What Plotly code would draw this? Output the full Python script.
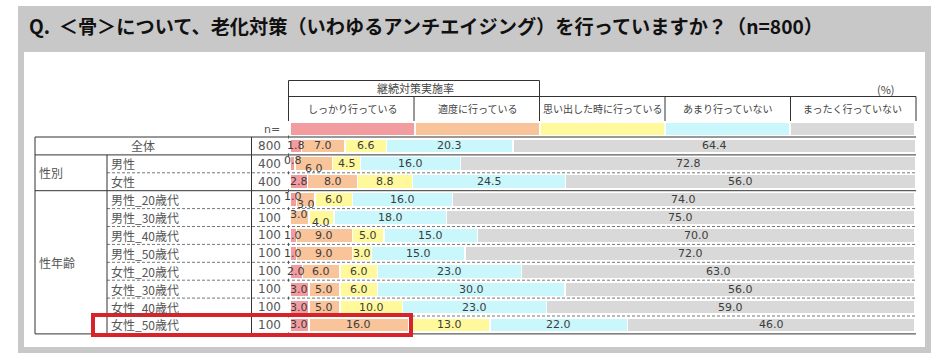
import plotly.graph_objects as go

W, H = 944, 358

# ---------------- data ----------------
rows = ["全体", "男性", "女性", "男性_20歳代", "男性_30歳代", "男性_40歳代",
        "男性_50歳代", "女性_20歳代", "女性_30歳代", "女性_40歳代", "女性_50歳代"]
n_values = [800, 400, 400, 100, 100, 100, 100, 100, 100, 100, 100]
series_names = ["しっかり行っている", "適度に行っている", "思い出した時に行っている",
                "あまり行っていない", "まったく行っていない"]
strong = [1.8, 0.8, 2.8, 1.0, 0.0, 1.0, 1.0, 2.0, 3.0, 3.0, 3.0]
moderate = [7.0, 6.0, 8.0, 3.0, 3.0, 9.0, 9.0, 6.0, 5.0, 5.0, 16.0]
remember = [6.6, 4.5, 8.8, 6.0, 4.0, 5.0, 3.0, 6.0, 6.0, 10.0, 13.0]
rarely = [20.3, 16.0, 24.5, 16.0, 18.0, 15.0, 15.0, 23.0, 30.0, 23.0, 22.0]
never = [64.4, 72.8, 56.0, 74.0, 75.0, 70.0, 72.0, 63.0, 56.0, 59.0, 46.0]
title_text = "Q.  ＜骨＞について、老化対策（いわゆるアンチエイジング）を行っていますか？（n=800）"
group_label = "継続対策実施率"
unit_label = "(%)"

series = [strong, moderate, remember, rarely, never]
colors = ["#F29CA0", "#F9C49A", "#FFF99B", "#C9F7FB", "#D9D9D9"]

JP = "Noto Sans CJK JP"
NUM = "DejaVu Sans"


def px(x):
    return x / W


def py(y):
    return 1 - y / H


fig = go.Figure()
for name, vals, col in zip(series_names, series, colors):
    fig.add_trace(go.Bar(
        y=rows, x=vals, name=name, orientation="h",
        marker=dict(color=col, line=dict(color="white", width=1.5)),
        width=0.8, hoverinfo="x+name", showlegend=False,
    ))

shapes = []
annotations = []


def text(t, x, y, size=12, color="#555555", family=JP, xanchor="center", xref="paper", yref="paper", yshift=0):
    annotations.append(dict(text=t, x=x, y=y, xref=xref, yref=yref, xanchor=xanchor, yanchor="middle",
                            showarrow=False, yshift=yshift,
                            font=dict(family=family, size=size, color=color)))


# frame
shapes.append(dict(type="rect", xref="paper", yref="paper", x0=px(18), x1=px(931),
                   y0=py(353), y1=py(6), fillcolor="#C8C8C8", line=dict(width=0), layer="below"))
shapes.append(dict(type="rect", xref="paper", yref="paper", x0=px(24), x1=px(925),
                   y0=py(347), y1=py(52), fillcolor="white", line=dict(width=0), layer="below"))

text("<b>" + title_text + "</b>", px(27), py(26.5), size=19.2, color="#111111", xanchor="left")


def hline(y, x0, x1, dash="solid", color="#333333", width=1):
    shapes.append(dict(type="line", xref="paper", yref="paper", x0=px(x0), x1=px(x1),
                       y0=py(y), y1=py(y), line=dict(color=color, width=width, dash=dash)))


def vline(x, y0, y1, dash="solid", color="#333333", width=1):
    shapes.append(dict(type="line", xref="paper", yref="paper", x0=px(x), x1=px(x),
                       y0=py(y0), y1=py(y1), line=dict(color=color, width=width, dash=dash)))


# header lines
hline(80.5, 288.5, 539.5)
vline(288.5, 80.5, 121)
vline(539.5, 80.5, 121)
hline(96.5, 288.5, 916)
for xv in [414, 665, 790.5, 916]:
    vline(xv, 96.5, 121)

text(group_label, 20, py(88.5), size=11, color="#444444", xref="x")
text(unit_label, px(897), py(89), size=11, color="#444444", xanchor="right")
for i, nm in enumerate(series_names):
    text(nm, i * 20 + 10, py(108.5), size=10, color="#444444", xref="x")
    shapes.append(dict(type="rect", xref="x", yref="paper", x0=i * 20 + 0.15, x1=(i + 1) * 20 - 0.15,
                       y0=py(135), y1=py(123), fillcolor=colors[i], line=dict(width=0)))

text("n=", px(262), py(129.5), size=11, family=NUM, xanchor="left")

# table grid
top, rh = 137.0, 17.9
bounds = [top + k * rh for k in range(len(rows) + 1)]
for k, yb in enumerate(bounds):
    if k in (0, 1, 3, len(rows)):
        hline(yb, 35, 916)
    else:
        hline(yb, 107, 916, dash="3px,2px", color="#777777")
    shapes.append(dict(type="line", xref="paper", yref="paper", x0=px(288.5), x1=px(288.5),
                       y0=py(yb - 1.5), y1=py(yb + 1.5), line=dict(color="#555555", width=1)))
vline(35, bounds[0], bounds[-1])
vline(251.5, bounds[0], bounds[-1])
vline(107, bounds[1], bounds[-1])

# row labels / n
for i, (lab, nv) in enumerate(zip(rows, n_values)):
    yc = (bounds[i] + bounds[i + 1]) / 2
    if i == 0:
        text(lab, px(143), py(yc))
    else:
        text(lab, px(109), py(yc), xanchor="left")
    text(str(nv), px(256), py(yc), family=NUM, xanchor="left")

text("性別", px(37), py((bounds[1] + bounds[3]) / 2), xanchor="left")
text("性年齢", px(37), py((bounds[3] + bounds[-1]) / 2), xanchor="left")

# value labels
for i, lab in enumerate(rows):
    vals = [s[i] for s in series]
    segs = []
    start = 0.0
    for v in vals:
        if v > 0:
            segs.append([start + v / 2, v, 0])
        start += v
    for k in range(len(segs) - 1):
        if segs[k][2] == 0 and (segs[k][1] + segs[k + 1][1]) / 2 < 3.75:
            segs[k][2] = 3
            segs[k + 1][2] = -5
    for c, v, sh in segs:
        text(f"{v:.1f}", c, lab, size=11, color="#3c3c3c", family=NUM, xref="x", yref="y", yshift=sh)

# highlight box
shapes.append(dict(type="rect", xref="paper", yref="paper", x0=px(93), x1=px(411),
                   y0=py(335), y1=py(315), line=dict(color="#D9232A", width=4), layer="above"))

fig.update_layout(
    width=W, height=H, margin=dict(l=0, r=0, t=0, b=0),
    paper_bgcolor="white", plot_bgcolor="rgba(0,0,0,0)",
    barmode="stack", bargap=0.2,
    xaxis=dict(domain=[px(290), px(915)], range=[0, 100], showgrid=False, zeroline=False,
               showticklabels=False, ticks="", fixedrange=True),
    yaxis=dict(domain=[py(bounds[-1]), py(bounds[0])], type="category", autorange=False,
               range=[len(rows) - 0.5, -0.5], showgrid=False, zeroline=False,
               showticklabels=False, ticks=""),
    shapes=shapes, annotations=annotations,
)

fig.write_html("out.html", config={"displayModeBar": False},
               post_script="document.body.style.margin='0';")
